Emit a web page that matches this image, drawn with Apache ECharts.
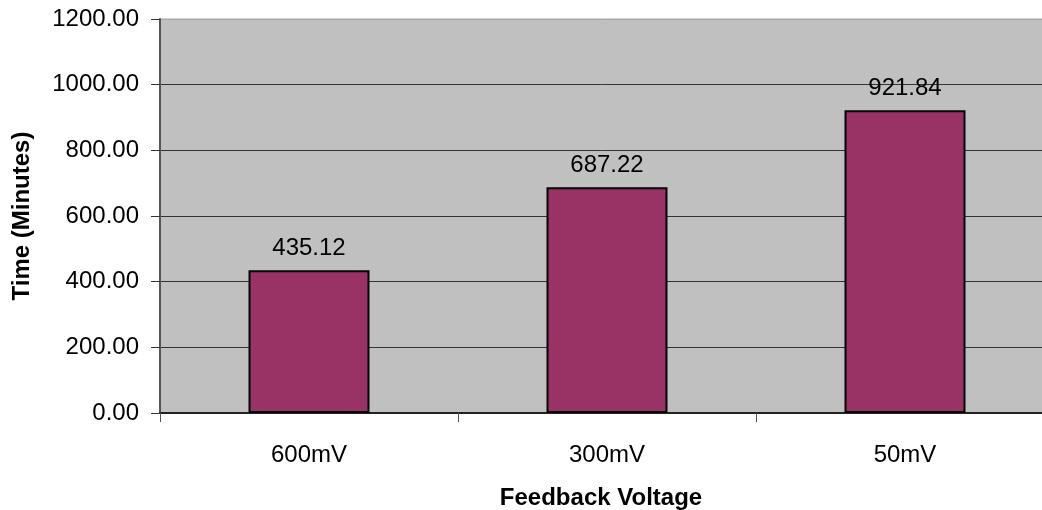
<!DOCTYPE html>
<html>
<head>
<meta charset="utf-8">
<script src="https://cdn.jsdelivr.net/npm/echarts@6/dist/echarts.min.js"></script>
<style>
  html, body { margin: 0; padding: 0; background: #fff; }
  #chart { width: 1042px; height: 510px; }
</style>
</head>
<body>
<div id="chart"></div>
<script>
// Feedback voltage settings and the measured time for each
const categories = ['600mV', '300mV', '50mV'];
const timeMinutes = [435.12, 687.22, 921.84];
const yTicks = { min: 0, max: 1200, interval: 200 };

const font = 'Liberation Sans, Arial, sans-serif';
const chart = echarts.init(document.getElementById('chart'));

// Gridlines are dark except the topmost, which blends into the light plot border
const gridColors = ['#333', '#333', '#333', '#333', '#333', '#333', '#a8a8a8'];

chart.setOption({
  animation: false,
  grid: {
    // the plot runs slightly past the right edge of the canvas
    left: 160, right: -12, top: 19, bottom: 97,
    outerBoundsMode: 'none',
    containLabel: false,
    show: true,
    backgroundColor: '#c0c0c0',
    borderColor: '#a8a8a8',
    borderWidth: 1
  },
  xAxis: {
    type: 'category',
    data: categories,
    name: 'Feedback Voltage',
    nameLocation: 'middle',
    nameGap: 73,
    // centred on the visible part of the plot
    nameTextStyle: { fontFamily: font, fontSize: 24, fontWeight: 'bold', color: '#000', padding: [0, 12, 0, 0] },
    axisLine: { lineStyle: { color: '#222', width: 2 } },
    axisTick: { show: true, length: 9, lineStyle: { color: '#555' } },
    axisLabel: { fontFamily: font, fontSize: 24, color: '#000', margin: 30 }
  },
  yAxis: {
    type: 'value',
    min: yTicks.min,
    max: yTicks.max,
    interval: yTicks.interval,
    name: 'Time (Minutes)',
    nameLocation: 'middle',
    nameGap: 126,
    nameTextStyle: { fontFamily: font, fontSize: 24, fontWeight: 'bold', color: '#000' },
    axisLine: { show: true, lineStyle: { color: '#555', width: 2 } },
    axisTick: { show: true, length: 9, lineStyle: { color: '#333' } },
    axisLabel: {
      fontFamily: font, fontSize: 24, color: '#000', margin: 21,
      formatter: v => v.toFixed(2)
    },
    splitLine: { show: true, lineStyle: { color: gridColors, width: 1 } }
  },
  series: [{
    type: 'bar',
    data: timeMinutes,
    barWidth: '40.6%',
    itemStyle: { color: '#993366', borderColor: '#000', borderWidth: 2 },
    label: {
      show: true,
      position: 'top',
      distance: 10,
      fontFamily: font,
      fontSize: 24,
      color: '#000',
      formatter: p => p.value.toFixed(2)
    }
  }]
});
</script>
</body>
</html>
